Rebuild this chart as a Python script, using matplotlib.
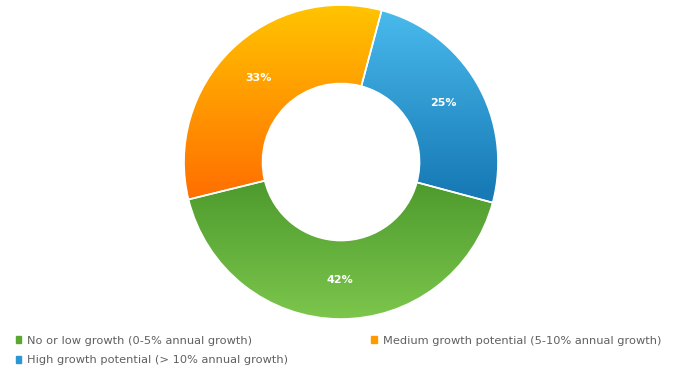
import numpy as np
import matplotlib.pyplot as plt
from matplotlib.colors import LinearSegmentedColormap
from matplotlib.patches import Patch

labels = ['No or low growth (0-5% annual growth)',
          'Medium growth potential (5-10% annual growth)',
          'High growth potential (> 10% annual growth)']
shares = [42, 33, 25]
base_colors = ['#5aa832', '#ff9a00', '#2a97d4']
# top -> bottom gradient stops for each slice
grad_stops = [('#3c8a22', '#7cc64c'), ('#ffc400', '#ff6a00'), ('#4bbcee', '#177ab6')]
grad_range = [(0.2, -1.0), (1.0, -0.3), (1.0, -0.2)]

fig = plt.figure(figsize=(6.73, 3.74), dpi=100)
ax = fig.add_axes([0.2734, 0.147, 0.4666, 0.8396])

wedges, texts, autotexts = ax.pie(
    shares, colors=base_colors, startangle=-15, counterclock=False,
    radius=1.0, wedgeprops=dict(width=0.5, edgecolor='white', linewidth=1),
    autopct='%d%%', pctdistance=0.75,
    textprops=dict(color='white', fontsize=8, fontweight='bold'))

yy = np.linspace(1, -1, 300)[:, None] * np.ones((1, 300))
for w, (c0, c1), (ytop, ybot) in zip(wedges, grad_stops, grad_range):
    cmap = LinearSegmentedColormap.from_list('g', [c0, c1])
    t = np.clip((ytop - yy) / (ytop - ybot), 0, 1)
    im = ax.imshow(t, cmap=cmap, vmin=0, vmax=1, extent=[-1, 1, -1, 1],
                   zorder=w.get_zorder() + 0.1, interpolation='bilinear')
    im.set_clip_path(w)

# white separators on top of the gradients
ax.pie(shares, colors=['none'] * 3, startangle=-15, counterclock=False,
       radius=1.0, wedgeprops=dict(width=0.5, edgecolor='white', linewidth=1.2, zorder=5))
for t in autotexts:
    t.set_zorder(10)

ax.set_xlim(-1, 1)
ax.set_ylim(-1, 1)
ax.set_aspect('equal')
ax.axis('off')

handles = [Patch(color=base_colors[0]), Patch(color=base_colors[2]), Patch(color=base_colors[1])]
hlabels = [labels[0], labels[2], labels[1]]
fig.legend(handles, hlabels, loc='upper left', bbox_to_anchor=(0.008, 0.13),
           ncol=2, frameon=False, fontsize=8.2, labelcolor='#606060',
           handlelength=0.5, handleheight=0.5, handletextpad=0.5,
           columnspacing=7.3, labelspacing=0.85)

fig.savefig('out.png', dpi=100)
